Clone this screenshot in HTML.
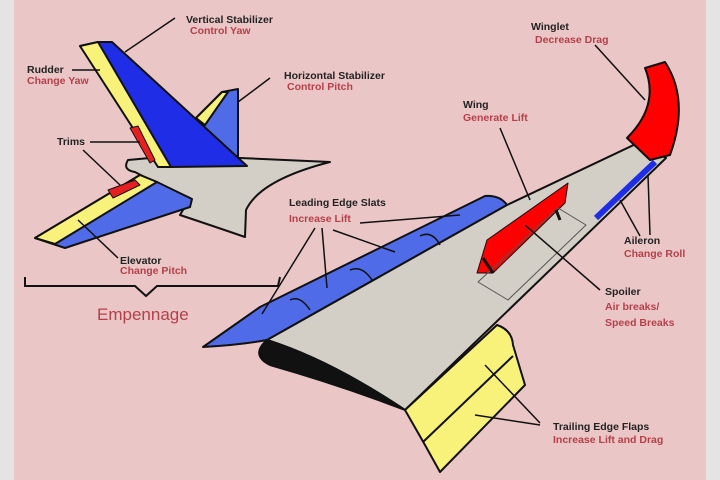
<!DOCTYPE html>
<html><head><style>
body{margin:0;width:720px;height:480px;overflow:hidden;background:#e4e4e4}
svg{display:block}
text{font-family:"Liberation Sans",sans-serif;font-weight:bold;font-size:10.5px}
.b{fill:#222}.r{fill:#b5404a}
</style></head><body>
<svg width="720" height="480" viewBox="0 0 720 480">
<rect x="14" y="0" width="692" height="480" fill="#ebc6c6"/>
<g stroke="#111" stroke-width="2" stroke-linejoin="round">
<polygon points="196,118 222,92 238,89 238,158 205,135" fill="#4f6be8"/>
<polygon points="196,118 222,92 228,92 205,125" fill="#f8f27a"/>
<path d="M128,160 Q122,170 135,172 L150,180 L190,198 L180,215 Q210,225 245,237 L246,210 Q260,180 330,162 L240,158 L150,158 Z" fill="#d3cfc6"/>
<polygon points="80,46 98,42 112,42 247,166 170,167" fill="#1f2ee6"/>
<polygon points="80,46 98,42 171,167 158,167" fill="#f8f27a"/>
<polygon points="130,128 138,126 155,160 150,163" fill="#e62020" stroke-width="1"/>
<polygon points="35,238 140,175 157,182 192,199 190,207 65,248" fill="#4f6be8"/>
<polygon points="35,238 140,175 157,182 55,244" fill="#f8f27a"/>
<polygon points="108,190 135,180 140,185 113,198" fill="#e62020" stroke-width="1"/>
<path d="M203,347 L260,307 L485,196 Q500,195 507,205 L267,340 Q240,345 203,347 Z" fill="#4f6be8"/>
<path d="M267,340 L507,205 L640,142 L666,158 L405,410 Q330,360 267,340 Z" fill="#d3cfc6"/>
<path d="M267,340 Q250,355 270,365 Q340,385 405,410 Q330,360 267,340 Z" fill="#111"/>
<path d="M627,138 Q660,105 645,68 L665,62 Q690,100 670,155 L650,160 Z" fill="#f00"/>
<line x1="596" y1="218" x2="655" y2="162" stroke="#1f2ee6" stroke-width="6"/>
<path d="M405,410 L497,325 Q512,330 513,345 L525,385 L440,472 L425,445 Z" fill="#f8f27a"/>
<line x1="423" y1="442" x2="513" y2="356" />
<polygon points="477,273 487,240 568,183 565,203 493,273" fill="#f00" stroke-width="1"/>
<polygon points="478,282 558,208 586,225 508,300" fill="none" stroke="#555" stroke-width="1"/>
<line x1="483" y1="258" x2="493" y2="273" stroke-width="3"/>
<line x1="556" y1="210" x2="560" y2="220" stroke-width="3"/>
</g>
<g stroke="#111" stroke-width="1.5" fill="none">
<path d="M290,300 Q300,295 310,310"/>
<path d="M350,270 Q362,265 372,280"/>
<path d="M420,236 Q432,230 440,245"/>
<line x1="175" y1="18" x2="125" y2="52"/>
<line x1="72" y1="70" x2="100" y2="70"/>
<line x1="270" y1="78" x2="238" y2="102"/>
<line x1="90" y1="142" x2="140" y2="142"/>
<line x1="83" y1="150" x2="120" y2="185"/>
<line x1="118" y1="258" x2="78" y2="220"/>
<line x1="315" y1="228" x2="262" y2="314"/>
<line x1="322" y1="228" x2="327" y2="288"/>
<line x1="333" y1="230" x2="395" y2="252"/>
<line x1="360" y1="223" x2="460" y2="215"/>
<line x1="500" y1="128" x2="530" y2="200"/>
<line x1="595" y1="45" x2="645" y2="100"/>
<line x1="648" y1="175" x2="650" y2="235"/>
<line x1="620" y1="200" x2="640" y2="236"/>
<line x1="525" y1="225" x2="600" y2="290"/>
<line x1="540" y1="425" x2="475" y2="415"/>
<line x1="540" y1="423" x2="485" y2="365"/>
<path d="M25,277 L25,286 L135,286 L146,296 L157,286 L278,286 L280,277" stroke-width="2"/>
</g>
<text x="186" y="23" class="b">Vertical Stabilizer</text>
<text x="190" y="34" class="r">Control Yaw</text>
<text x="27" y="73" class="b">Rudder</text>
<text x="27" y="84" class="r">Change Yaw</text>
<text x="284" y="79" class="b">Horizontal Stabilizer</text>
<text x="287" y="90" class="r">Control Pitch</text>
<text x="57" y="145" class="b">Trims</text>
<text x="120" y="264" class="b">Elevator</text>
<text x="120" y="274" class="r">Change Pitch</text>
<text x="97" y="320" class="r" style="font-size:17px;font-weight:normal">Empennage</text>
<text x="289" y="206" class="b">Leading Edge Slats</text>
<text x="289" y="222" class="r">Increase Lift</text>
<text x="463" y="108" class="b">Wing</text>
<text x="463" y="121" class="r">Generate Lift</text>
<text x="531" y="30" class="b">Winglet</text>
<text x="535" y="43" class="r">Decrease Drag</text>
<text x="624" y="244" class="b">Aileron</text>
<text x="624" y="257" class="r">Change Roll</text>
<text x="605" y="295" class="b">Spoiler</text>
<text x="605" y="310" class="r">Air breaks/</text>
<text x="605" y="326" class="r">Speed Breaks</text>
<text x="553" y="430" class="b">Trailing Edge Flaps</text>
<text x="553" y="443" class="r">Increase Lift and Drag</text>
</svg>
</body></html>
